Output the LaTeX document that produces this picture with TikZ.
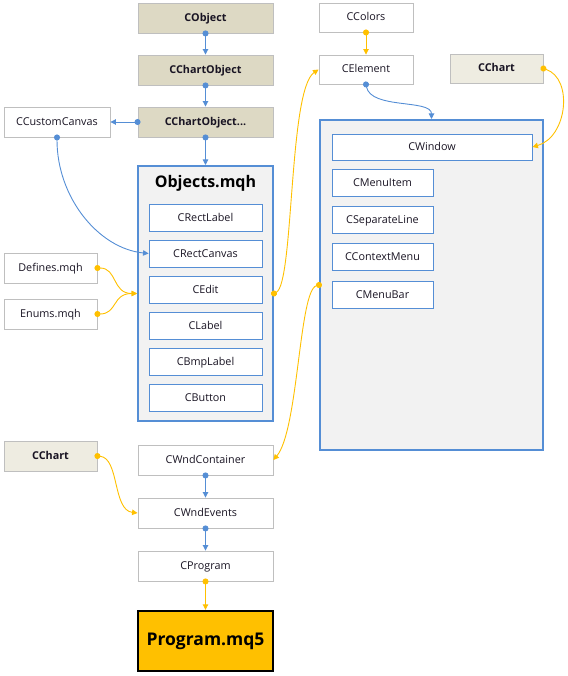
\documentclass[tikz,border=0pt]{standalone}
\usepackage{fontspec}
\setmainfont{Open Sans}
\usetikzlibrary{arrows.meta}
\definecolor{bl}{RGB}{85,142,213}
\definecolor{yl}{RGB}{255,192,0}
\definecolor{tanD}{RGB}{221,217,196}
\definecolor{tanL}{RGB}{238,236,225}
\definecolor{grB}{RGB}{191,191,191}
\definecolor{panelF}{RGB}{242,242,242}
\definecolor{txt}{RGB}{25,20,35}
\tikzset{
  x=1pt, y=-1pt,
  every node/.style={text=txt},
  plainbox/.style={draw=grB, fill=white, line width=0.9pt, inner sep=0pt,
    text height=7.8pt, text depth=0.8pt,
    font=\fontsize{10.8}{12}\selectfont, minimum width=135, minimum height=30},
  tanbox/.style={plainbox, fill=tanD, font=\fontsize{10.8}{12}\selectfont\bfseries},
  tanlbox/.style={plainbox, fill=tanL, font=\fontsize{10.8}{12}\selectfont\bfseries},
  innerbox/.style={draw=bl, fill=white, line width=0.9pt, inner sep=0pt,
    text height=7.8pt, text depth=0.8pt,
    font=\fontsize{10.8}{12}\selectfont, minimum width=113, minimum height=27},
  menubox/.style={innerbox, minimum width=101},
  panelbox/.style={draw=bl, fill=panelF, line width=2pt, inner sep=0pt},
  conn/.style={line width=0.9pt, shorten <=-3pt,
    {Circle[length=6pt]}-{Triangle[length=5.5pt,width=5.5pt]}},
  blconn/.style={conn, draw=bl},
  ylconn/.style={conn, draw=yl},
}
\begin{document}
\begin{tikzpicture}
\useasboundingbox (0,0) rectangle (567,676);
% left column
\node[tanbox] (cobject) at (205.5,18) {CObject};
\node[tanbox] (cchartobj) at (205.5,70) {CChartObject};
\node[tanbox] (cchartobjx) at (205.5,122) {CChartObject...};
\node[plainbox, minimum width=106] (ccustom) at (57,122) {CCustomCanvas};
% Objects.mqh container
\node[panelbox, minimum width=135, minimum height=255] (objects) at (205.5,293.5) {};
\node[inner sep=0pt, font=\fontsize{16}{18}\selectfont\bfseries, text=black] (objtitle) at (205.5,183) {Objects.mqh};
\node[innerbox] (crectlabel) at (205.5,217.5) {CRectLabel};
\node[innerbox] (crectcanvas) at (205.5,253.5) {CRectCanvas};
\node[innerbox] (cedit) at (205.5,289.5) {CEdit};
\node[innerbox] (clabel) at (205.5,325.5) {CLabel};
\node[innerbox] (cbmplabel) at (205.5,361.5) {CBmpLabel};
\node[innerbox] (cbutton) at (205.5,397.5) {CButton};
\node[plainbox, minimum width=93] (defines) at (50.5,268) {Defines.mqh};
\node[plainbox, minimum width=93] (enums) at (50.5,314) {Enums.mqh};
% right part
\node[plainbox, minimum width=94, minimum height=29] (ccolors) at (366,17.5) {CColors};
\node[plainbox, minimum width=94, minimum height=29] (celement) at (366,69.5) {CElement};
\node[tanlbox, minimum width=93, minimum height=29] (cchartA) at (496.5,68.5) {CChart};
\node[panelbox, minimum width=223, minimum height=330] (panel) at (431.5,285) {};
\node[innerbox, minimum width=200, minimum height=26] (cwindow) at (432,147) {CWindow};
\node[menubox] (cmenuitem) at (382.5,182.5) {CMenuItem};
\node[menubox] (csepline) at (382.5,219.5) {CSeparateLine};
\node[menubox] (ccontext) at (382.5,256.5) {CContextMenu};
\node[menubox] (cmenubar) at (382.5,294.5) {CMenuBar};
% bottom
\node[tanlbox, minimum width=93] (cchartB) at (50.5,456) {CChart};
\node[plainbox] (cwndcont) at (205.5,460) {CWndContainer};
\node[plainbox] (cwndevents) at (205.5,513) {CWndEvents};
\node[plainbox] (cprogram) at (205.5,566) {CProgram};
\node[draw=black, fill=yl, line width=2.4pt, inner sep=0pt, minimum width=135, minimum height=60,
  font=\fontsize{17.5}{20}\selectfont\bfseries, text=black] (programmq5) at (205.5,641) {Program.mq5};
% connectors
\draw[blconn] (cobject.south) -- (cchartobj.north);
\draw[blconn] (cchartobj.south) -- (cchartobjx.north);
\draw[blconn] (cchartobjx.west) -- (ccustom.east);
\draw[blconn] (cchartobjx.south) -- (objects.north);
\draw[blconn] (ccustom.south) .. controls +(0,60) and +(-50,-5) .. (crectcanvas.west);
\draw[ylconn] (defines.east) .. controls +(20,0) and +(-25,0) .. (objects.west);
\draw[ylconn] (enums.east) .. controls +(20,0) and +(-25,0) .. (objects.west);
\draw[ylconn] (objects.east) .. controls +(20,-10) and +(-30,20) .. (celement.west);
\draw[ylconn] (ccolors.south) -- (celement.north);
\draw[blconn] (celement.south) .. controls +(5,25) and +(0,-20) .. (panel.north);
\draw[ylconn] (cchartA.east) .. controls +(30,10) and +(35,-10) .. (cwindow.east);
\draw[ylconn] (panel.west) .. controls +(-20,5) and +(25,-30) .. (cwndcont.east);
\draw[ylconn] (cchartB.east) .. controls +(22,2) and +(-25,-3) .. (cwndevents.west);
\draw[blconn] (cwndcont.south) -- (cwndevents.north);
\draw[blconn] (cwndevents.south) -- (cprogram.north);
\draw[ylconn] (cprogram.south) -- (programmq5.north);
\end{tikzpicture}
\end{document}
